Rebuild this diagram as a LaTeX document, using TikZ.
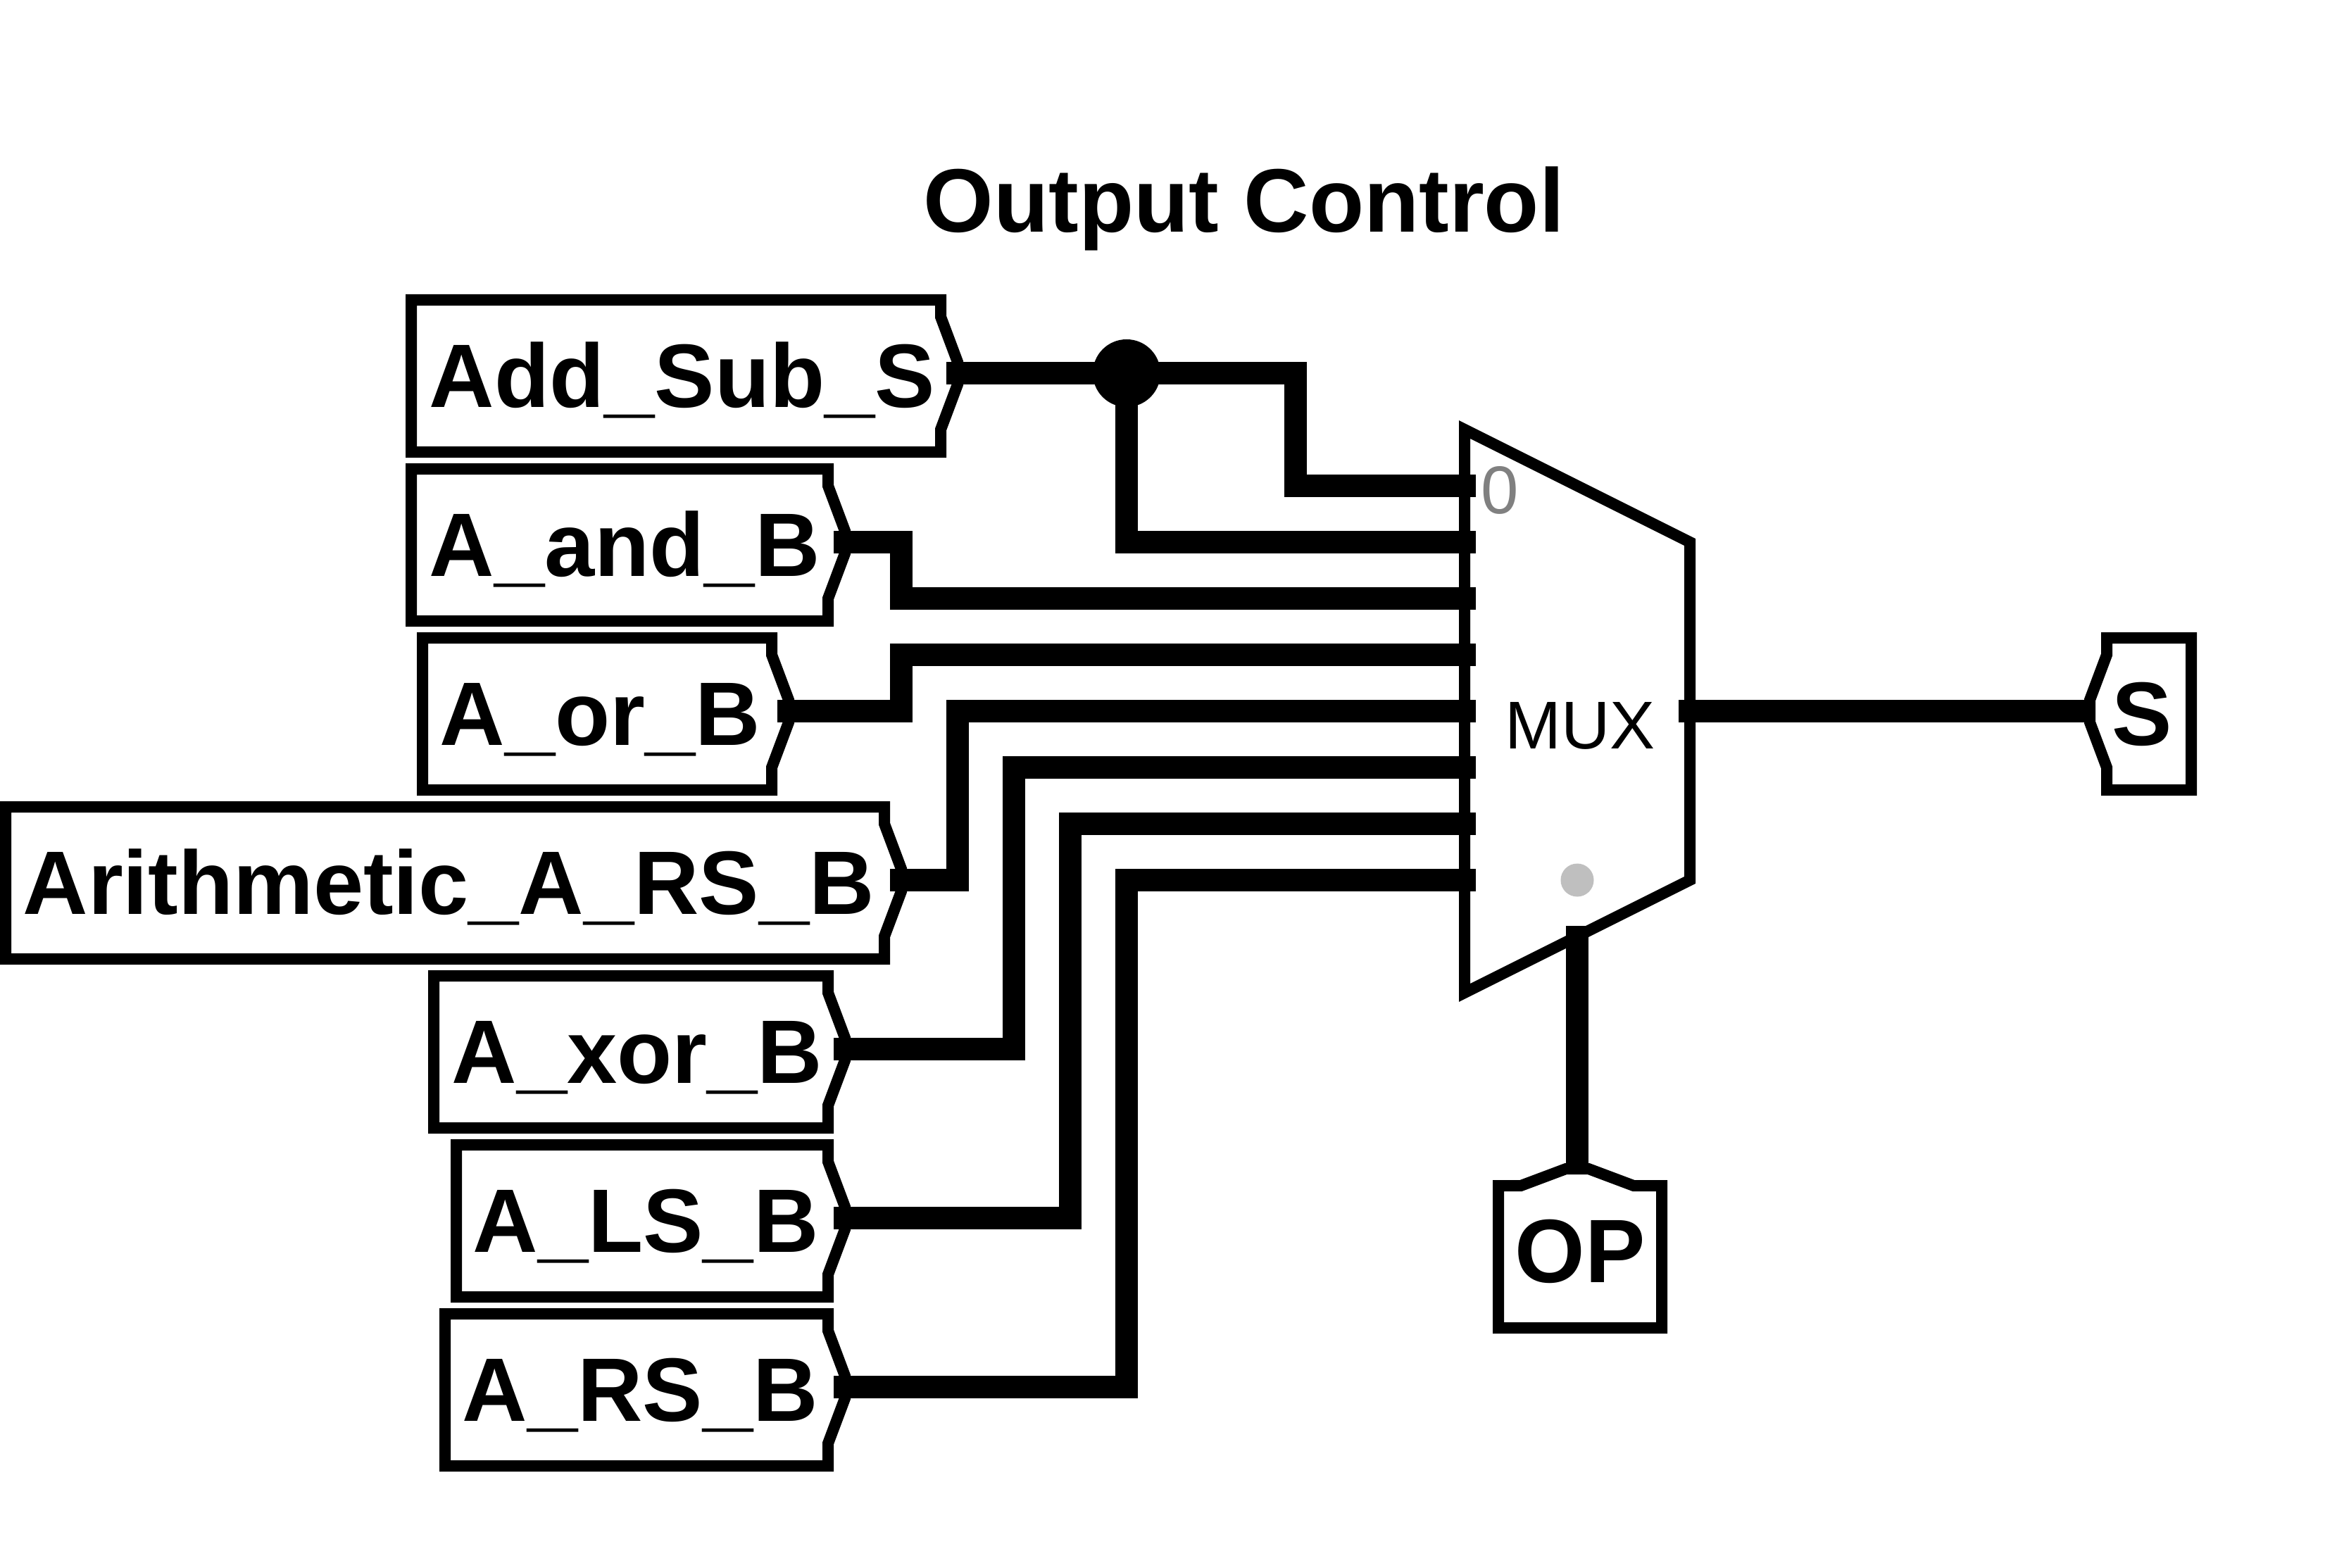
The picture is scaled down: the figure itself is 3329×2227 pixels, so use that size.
\documentclass[tikz,border=0pt]{standalone}
\usepackage{fontspec}
\setmainfont{Liberation Sans}
\definecolor{pinlabel}{HTML}{808080}
\definecolor{seldot}{HTML}{BFBFBF}
\tikzset{
  outline/.style={draw=black,line width=0.16cm,miter limit=10,fill=white},
  wire/.style={draw=black,line width=0.32cm,line cap=butt,line join=miter},
  taglabel/.style={anchor=base west,inner sep=0pt,text=black,font=\fontsize{36.4}{40}\selectfont\bfseries},
  muxlabel/.style={inner sep=0pt,font=\fontsize{27.3}{30}\selectfont},
}
% left, right, wire y: outline of an input tag whose point faces right
\newcommand{\intag}[3]{%
  \pgfmathsetmacro{\ta}{#3-104}\pgfmathsetmacro{\tb}{#3-80}\pgfmathsetmacro{\tc}{#3-16}%
  \pgfmathsetmacro{\td}{#3+16}\pgfmathsetmacro{\te}{#3+80}\pgfmathsetmacro{\tf}{#3+112}%
  \pgfmathsetmacro{\tp}{#2+24}%
  \draw[outline] (#1,\ta) -- (#2,\ta) -- (#2,\tb) -- (\tp,\tc) -- (\tp,\td) -- (#2,\te) -- (#2,\tf) -- (#1,\tf) -- cycle;%
}
\begin{document}
\begin{tikzpicture}[x=0.01cm,y=-0.01cm]
\useasboundingbox (0,0) rectangle (3329,2227);

\node[taglabel] (title) at (1311,329) {Output Control};

% input tags
\intag{584}{1336}{530}
\intag{584}{1176}{770}
\intag{600}{1096}{1010}
\intag{8}{1256}{1250}
\intag{616}{1176}{1490}
\intag{648}{1176}{1730}
\intag{632}{1176}{1970}

\node[taglabel] (addsub) at (609,578) {Add\_Sub\_S};
\node[taglabel] (aand) at (609,818) {A\_and\_B};
\node[taglabel] (aor) at (624,1058) {A\_or\_B};
\node[taglabel] (arith) at (32,1298) {Arithmetic\_A\_RS\_B};
\node[taglabel] (axor) at (641,1538) {A\_xor\_B};
\node[taglabel] (als) at (671,1778) {A\_LS\_B};
\node[taglabel] (ars) at (656,2018) {A\_RS\_B};

% output and select tags
\draw[outline] (2992,906) -- (3112,906) -- (3112,1122) -- (2992,1122) -- (2992,1090) -- (2968,1026) -- (2968,994) -- (2992,930) -- cycle;
\node[taglabel] (s) at (2999,1058) {S};
\draw[outline] (2128,1684) -- (2160,1684) -- (2224,1660) -- (2256,1660) -- (2320,1684) -- (2360,1684) -- (2360,1886) -- (2128,1886) -- cycle;
\node[taglabel] (op) at (2151,1821) {OP};

% multiplexer
\draw[outline] (2080,610) -- (2400,770) -- (2400,1250) -- (2080,1410) -- cycle;
\node[muxlabel] (mux) at (2244,1031) {MUX};
\node[muxlabel,text=pinlabel] (pin0) at (2130,696) {0};
\node[circle,fill=seldot,inner sep=0pt,minimum size=0.47cm] (dot) at (2240,1250) {};

% connection points
\coordinate (oAdd) at (1344,530);
\coordinate (oAnd) at (1184,770);
\coordinate (oOr) at (1104,1010);
\coordinate (oArith) at (1264,1250);
\coordinate (oXor) at (1184,1490);
\coordinate (oLS) at (1184,1730);
\coordinate (oRS) at (1184,1970);
\coordinate (i0) at (2096,690);
\coordinate (i1) at (2096,770);
\coordinate (i2) at (2096,850);
\coordinate (i3) at (2096,930);
\coordinate (i4) at (2096,1010);
\coordinate (i5) at (2096,1090);
\coordinate (i6) at (2096,1170);
\coordinate (i7) at (2096,1250);
\coordinate (mout) at (2384,1010);
\coordinate (sin) at (2968,1010);
\coordinate (msel) at (2240,1315);
\coordinate (opin) at (2240,1660);

% wires
\node[circle,fill=black,inner sep=0pt,minimum size=0.96cm] (junction) at (1600,530) {};
\draw[wire] (oAdd) -- (junction.center) -- (1840,530) -- (1840,690) -- (i0);
\draw[wire] (junction.center) -- (1600,770) -- (i1);
\draw[wire] (oAnd) -- (1280,770) -- (1280,850) -- (i2);
\draw[wire] (oOr) -- (1280,1010) -- (1280,930) -- (i3);
\draw[wire] (oArith) -- (1360,1250) -- (1360,1010) -- (i4);
\draw[wire] (oXor) -- (1440,1490) -- (1440,1090) -- (i5);
\draw[wire] (oLS) -- (1520,1730) -- (1520,1170) -- (i6);
\draw[wire] (oRS) -- (1600,1970) -- (1600,1250) -- (i7);
\draw[wire] (mout) -- (sin);
\draw[wire] (msel) -- (opin);
\end{tikzpicture}
\end{document}
